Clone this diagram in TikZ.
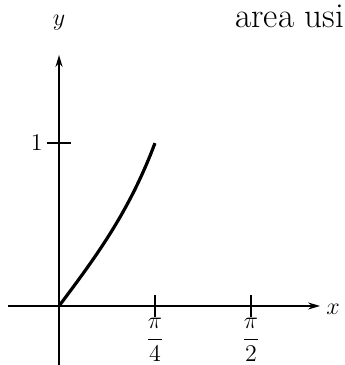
\documentclass[tikz,border=0pt]{standalone}
\usetikzlibrary{calc,arrows.meta}
\begin{document}
\begin{tikzpicture}[x=61.1pt,y=81.5pt,
  every node/.style={font=\fontsize{12}{14}\selectfont}]
\useasboundingbox (-0.483,-0.362) rectangle (2.332,1.877);

% draw axes
\coordinate (xstart) at (-0.417,0);
\coordinate (xend) at (2.136,0);
\coordinate (ystart) at (0,-0.362);
\coordinate (yend) at (0,1.540);
\draw [line width=0.8pt, -{Stealth[length=6pt,width=3.5pt]}] (xstart) -- (xend);
\draw [line width=0.8pt, -{Stealth[length=6pt,width=3.5pt]}] (ystart) -- (yend);
\node [anchor=west, inner sep=3pt] (xlabel) at ($(xend)+(0,-0.02)$) {$x$};
\node [inner sep=0pt] (ylabel) at (0,1.74) {$y$};

% ticks on the x axis
\coordinate (s1) at (0.7854,0);
\coordinate (t10) at ($(s1)+(0,0.068)$);
\coordinate (t11) at ($(s1)-(0,0.068)$);
\coordinate (s2) at (1.5708,0);
\coordinate (t20) at ($(s2)+(0,0.068)$);
\coordinate (t21) at ($(s2)-(0,0.068)$);

\draw [line width=0.8pt] (t10) -- (t11);
\node [anchor=north, inner sep=0.5pt] (pifour) at (t11) {$\displaystyle\frac{\pi}{4}$};

\draw [line width=0.8pt] (t20) -- (t21);
\node [anchor=north, inner sep=0.5pt] (pitwo) at (t21) {$\displaystyle\frac{\pi}{2}$};

% tick on the y axis
\coordinate (u0) at (0,1);
\coordinate (u00) at ($(u0)-(0.098,0)$);
\coordinate (u01) at ($(u0)+(0.098,0)$);
\draw [line width=0.8pt] (u00) -- (u01);
\node [anchor=east, inner sep=2pt] (one) at (u00) {$1$};

% the curve
\draw [line width=1.6pt, domain=0:0.7854, smooth, samples=40] plot (\x, {tan(\x r)});

% text of the page
\node [anchor=base west, inner sep=0pt, font=\fontsize{17.5}{20}\selectfont] (area) at (1.44,1.706) {area usi};

\end{tikzpicture}
\end{document}
